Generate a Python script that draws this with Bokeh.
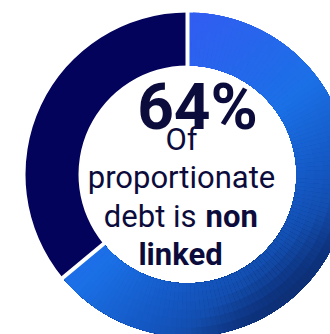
import numpy as np
from bokeh.plotting import figure
from bokeh.models import Range1d
from bokeh.core.properties import value
from bokeh.embed import file_html
from bokeh.resources import INLINE

# ---- data ----
labels = ["Non linked", "Linked"]
shares = [64, 36]
headline = "64%"
caption_plain = ["Of", "proportionate", "debt is"]
caption_bold = ["non", "linked"]

# ---- style ----
W, H = 330, 334
CX, CY_S = 187, 174
CY = H - CY_S
R_OUT, R_IN = 162, 109
DARK = "#03035c"
TEXT = "#0c0c3c"
GRAD_DIR = (0.663, 0.748)
GRAD_STOPS = [(140, "#315df1"), (266, "#1b70e6"), (341, "#1457c2"),
              (370, "#134eaf"), (401, "#0e3480"), (425, "#0b2a6a")]


def hex2rgb(h):
    h = h.lstrip("#")
    return np.array([int(h[i:i + 2], 16) for i in (0, 2, 4)], dtype=float)


def grad_color(t):
    ts = [s[0] for s in GRAD_STOPS]
    cs = np.array([hex2rgb(s[1]) for s in GRAD_STOPS])
    rgb = [np.interp(t, ts, cs[:, k]) for k in range(3)]
    return "#%02x%02x%02x" % tuple(int(round(v)) for v in rgb)


p = figure(width=W, height=H, x_range=Range1d(0, W), y_range=Range1d(0, H),
           output_backend="svg", toolbar_location=None, min_border=0)
p.axis.visible = False
p.grid.visible = False
p.outline_line_color = None
p.background_fill_color = "white"
p.border_fill_color = "white"

total = float(sum(shares))
bounds = [np.pi / 2]
for s in shares:
    bounds.append(bounds[-1] - s / total * 2 * np.pi)

# dark slice (Linked)
p.annular_wedge(x=[CX], y=[CY], inner_radius=R_IN, outer_radius=R_OUT,
                start_angle=[bounds[1]], end_angle=[bounds[2]], direction="clock",
                fill_color=DARK, line_color=None)

# gradient slice (Non linked), layered pieces
N, M = 120, 6
a_edges = np.linspace(bounds[0], bounds[1], N + 1)
r_edges = np.linspace(R_IN, R_OUT, M + 1)
xs, ys, sa, ea, orr, cols = [], [], [], [], [], []
for i in range(N):
    am = 0.5 * (a_edges[i] + a_edges[i + 1])
    for j in range(M - 1, -1, -1):
        rm = 0.5 * (r_edges[j] + r_edges[j + 1])
        px = CX + rm * np.cos(am)
        py_s = H - (CY + rm * np.sin(am))
        t = GRAD_DIR[0] * px + GRAD_DIR[1] * py_s
        xs.append(CX); ys.append(CY)
        sa.append(a_edges[i]); ea.append(bounds[1])
        orr.append(r_edges[j + 1]); cols.append(grad_color(t))
p.annular_wedge(x=xs, y=ys, inner_radius=R_IN, outer_radius=orr,
                start_angle=sa, end_angle=ea, direction="clock",
                fill_color=cols, line_color=None)

# white separators
ang = np.array(bounds[:-1])
p.segment(x0=CX + (R_IN - 3) * np.cos(ang), y0=CY + (R_IN - 3) * np.sin(ang),
          x1=CX + (R_OUT + 3) * np.cos(ang), y1=CY + (R_OUT + 3) * np.sin(ang),
          line_color="white", line_width=4)

font = value("Roboto")
FS = "31px"
p.text(x=[197], y=[H - 107], text=[headline], text_font=font, text_font_size="64px",
       text_font_style="bold", text_color=TEXT, text_align="center",
       text_baseline="alphabetic")
p.text(x=[181, 181], y=[H - 139, H - 177], text=caption_plain[:2], text_font=font,
       text_font_size=FS, text_color=TEXT, text_align="center",
       text_baseline="alphabetic")
p.text(x=[196], y=[H - 216], text=[caption_plain[2]], text_font=font,
       text_font_size=FS, text_color=TEXT, text_align="right",
       text_baseline="alphabetic")
p.text(x=[205], y=[H - 216], text=[caption_bold[0]], text_font=font,
       text_font_size=FS, text_font_style="bold", text_color=TEXT,
       text_align="left", text_baseline="alphabetic")
p.text(x=[180], y=[H - 254], text=[caption_bold[1]], text_font=font,
       text_font_size=FS, text_font_style="bold", text_color=TEXT,
       text_align="center", text_baseline="alphabetic")

open("out.html", "w").write(file_html(p, INLINE))
